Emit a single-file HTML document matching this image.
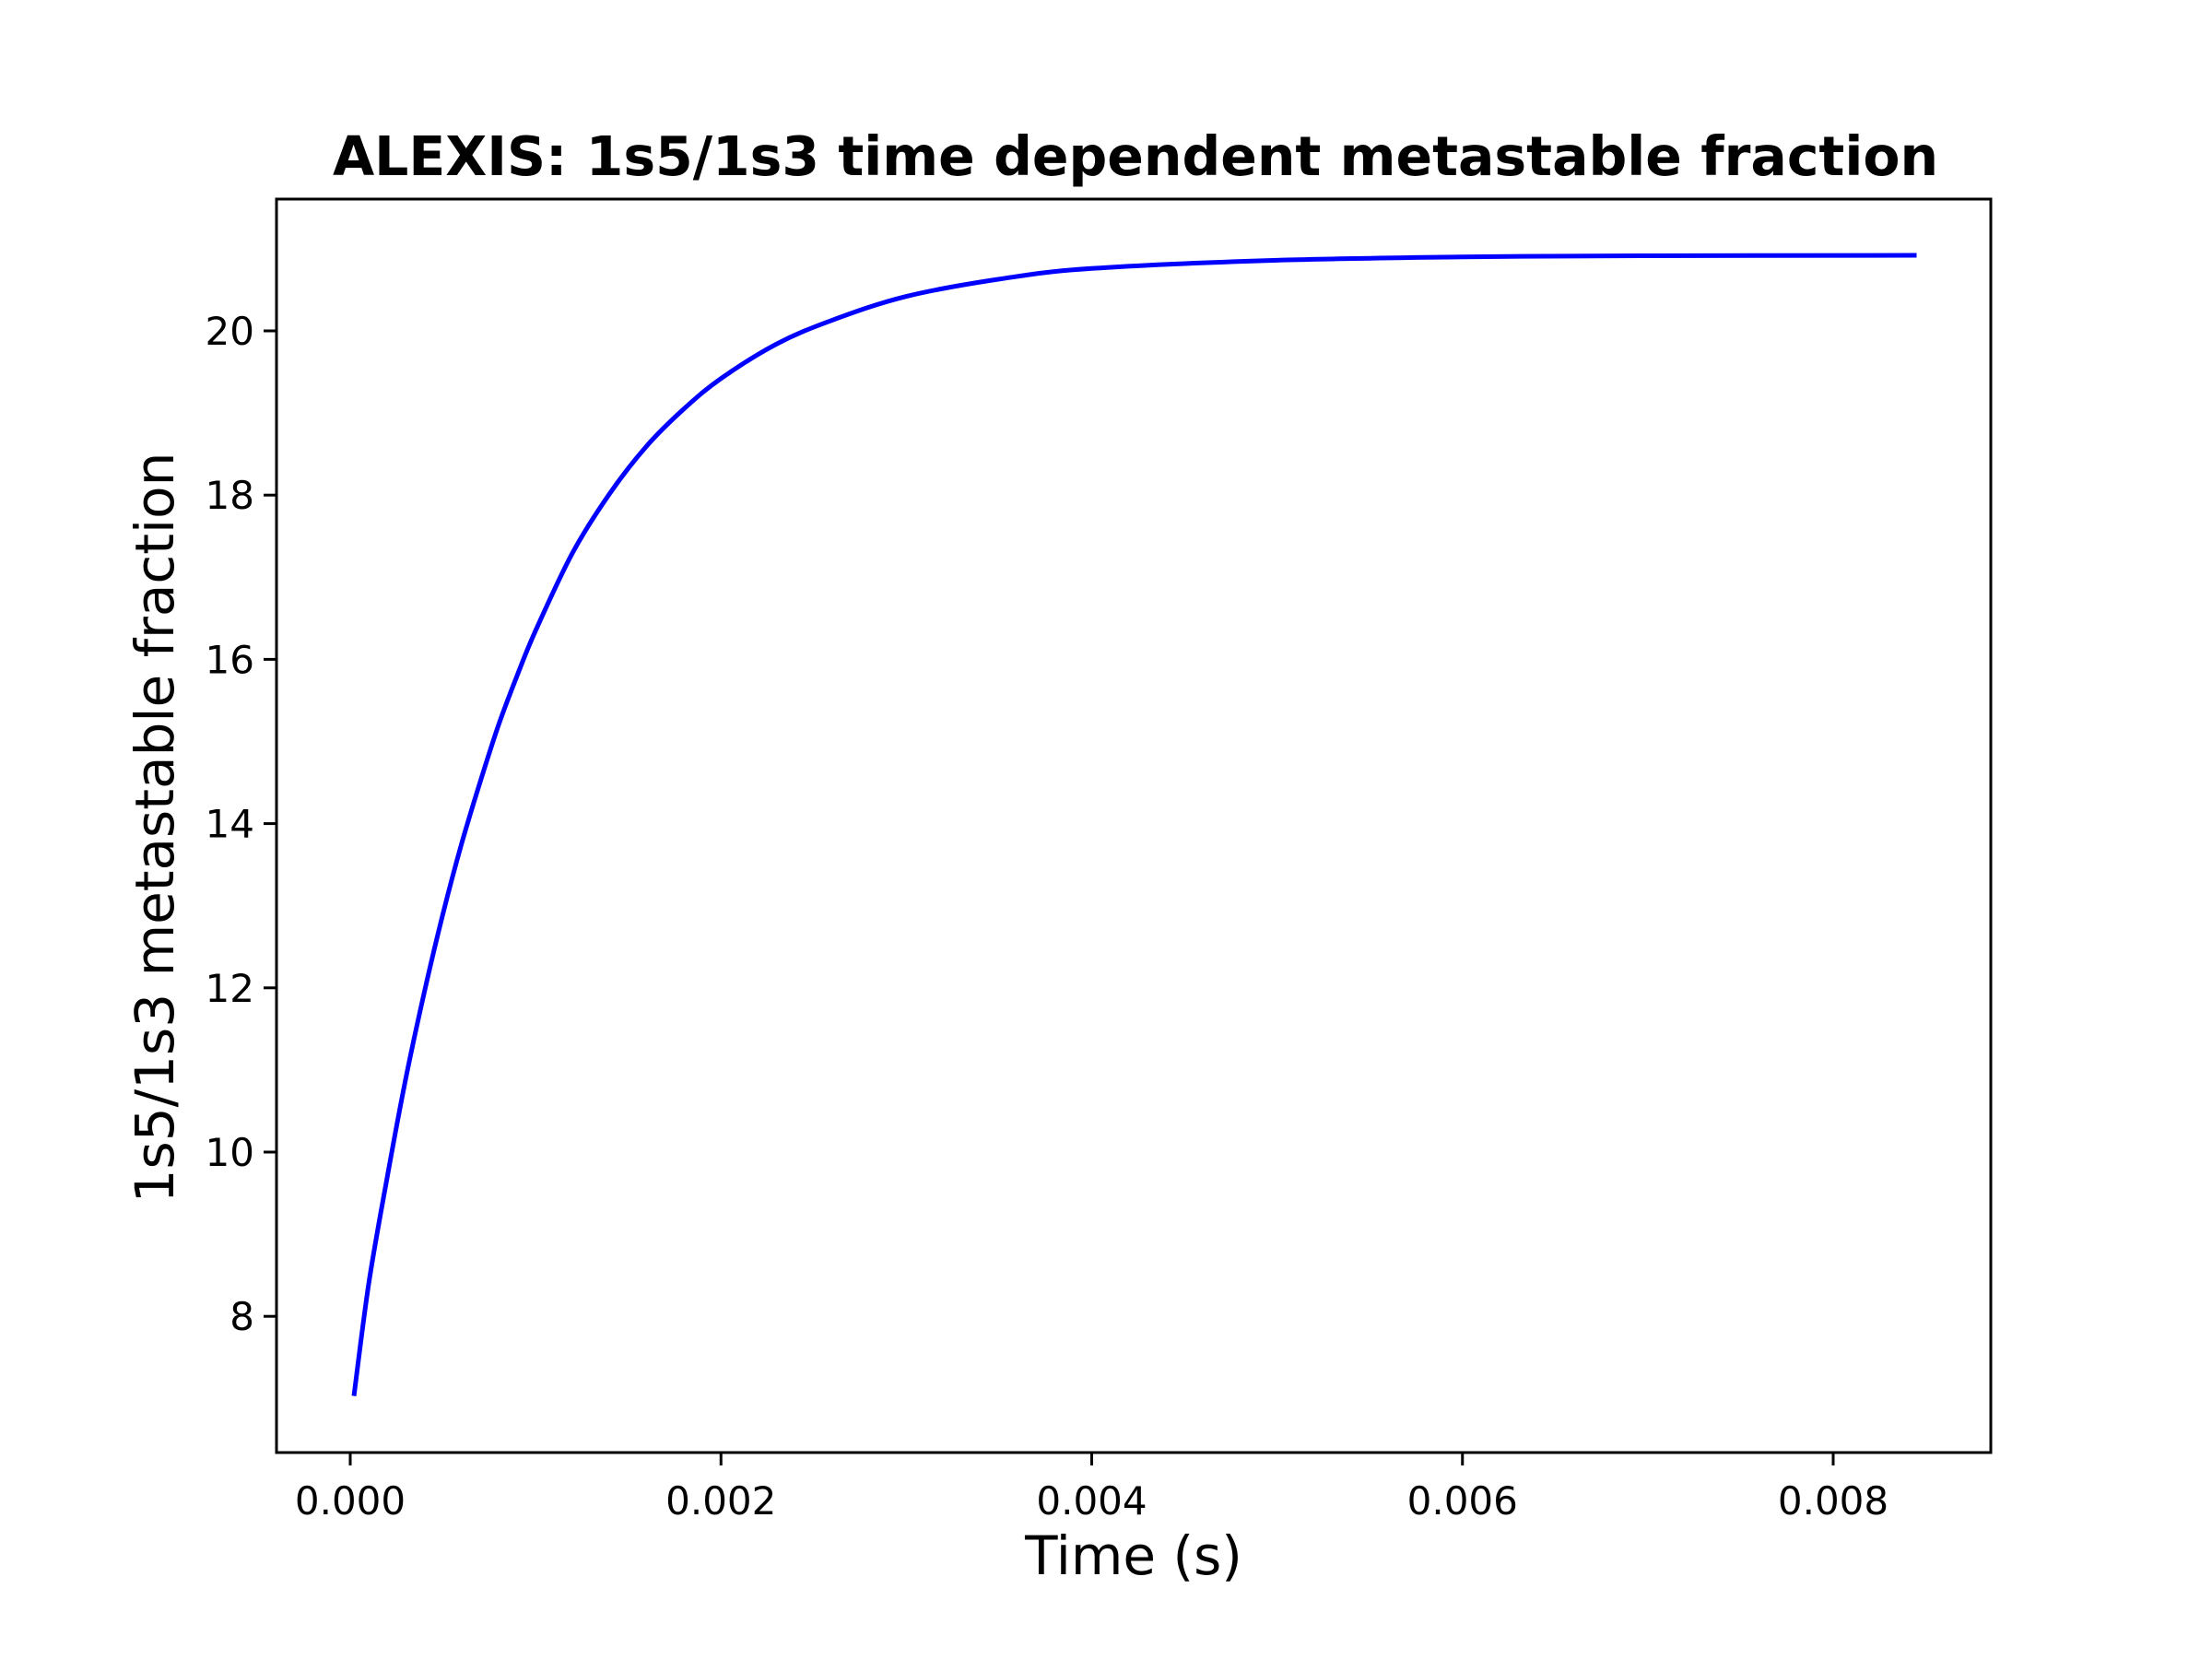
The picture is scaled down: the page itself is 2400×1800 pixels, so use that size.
<!DOCTYPE html>
<html><head><meta charset="utf-8"><style>
html,body{margin:0;padding:0;background:#fff;}
svg{display:block;font-family:"DejaVu Sans","Liberation Sans",sans-serif;}
</style></head><body>
<svg id="chart" width="2400" height="1800" viewBox="0 0 2400 1800">
<rect x="0" y="0" width="2400" height="1800" fill="#fff"/>
<text x="1232" y="190" font-size="58.4" font-weight="bold" text-anchor="middle">ALEXIS: 1s5/1s3 time dependent metastable fraction</text>
<g id="xticks"></g>
<g id="yticks"></g>
<g id="plot"></g>
<rect x="300" y="216" width="1860" height="1360" fill="none" stroke="#000" stroke-width="3"/>
<text x="1230" y="1708" font-size="58" text-anchor="middle">Time (s)</text>
<text x="0" y="0" font-size="58" text-anchor="middle" transform="translate(188,898) rotate(-90)">1s5/1s3 metastable fraction</text>
</svg>
<script>
const times = [0.00002,0.0001,0.0002,0.0003,0.0004,0.0005,0.0006,0.0007,0.0008,0.0009,0.001,0.0012,0.0014,0.0016,0.0018,0.002,0.0023,0.0026,0.003,0.0035,0.004,0.005,0.006,0.007,0.00845];
const fractions = [7.03,8.4,9.7,10.9,11.95,12.9,13.75,14.5,15.2,15.8,16.35,17.3,18.02,18.6,19.05,19.42,19.84,20.13,20.42,20.63,20.76,20.86,20.9,20.915,20.92];
const xTickValues = [0,0.002,0.004,0.006,0.008];
const xTickLabels = ["0.000","0.002","0.004","0.006","0.008"];
const yTickValues = [8,10,12,14,16,18,20];
const yTickLabels = ["8","10","12","14","16","18","20"];

const NS = "http://www.w3.org/2000/svg";
function xs(t){ return 380 + (t/0.002)*402.25; }
function ys(v){ return 359 + (20 - v)*89.1; }
function mk(tag, attrs, parent){
  const e = document.createElementNS(NS, tag);
  for (const k in attrs) e.setAttribute(k, attrs[k]);
  parent.appendChild(e); return e;
}
const gx = document.getElementById('xticks');
xTickValues.forEach((v,i)=>{
  const x = xs(v);
  const l = mk('line',{x1:x,x2:x,y1:1576,y2:1590,stroke:'#000','stroke-width':3},gx);
  
  
  const t = mk('text',{x:x,y:1643,'font-size':42,'text-anchor':'middle'},gx);
  t.textContent = xTickLabels[i];
  
  
});
const gy = document.getElementById('yticks');
yTickValues.forEach((v,i)=>{
  const y = ys(v);
  const l = mk('line',{x1:286,x2:300,y1:y,y2:y,stroke:'#000','stroke-width':3},gy);
  
  
  const t = mk('text',{x:276,y:y+15,'font-size':42,'text-anchor':'end'},gy);
  t.textContent = yTickLabels[i];
  
  
});
const pts = times.map((t,i)=>[xs(t), ys(fractions[i])]);
let d = 'M'+pts[0][0]+','+pts[0][1];
for (let i=0;i<pts.length-1;i++){
  const p0 = pts[Math.max(0,i-1)], p1 = pts[i], p2 = pts[i+1], p3 = pts[Math.min(pts.length-1,i+2)];
  const c1x = p1[0]+(p2[0]-p0[0])/6, c1y = p1[1]+(p2[1]-p0[1])/6;
  const c2x = p2[0]-(p3[0]-p1[0])/6, c2y = p2[1]-(p3[1]-p1[1])/6;
  d += ' C'+c1x+','+c1y+' '+c2x+','+c2y+' '+p2[0]+','+p2[1];
}
const path = mk('path',{d:d,fill:'none',stroke:'#0000ff','stroke-width':5},document.getElementById('plot'));


</script>
</body></html>
